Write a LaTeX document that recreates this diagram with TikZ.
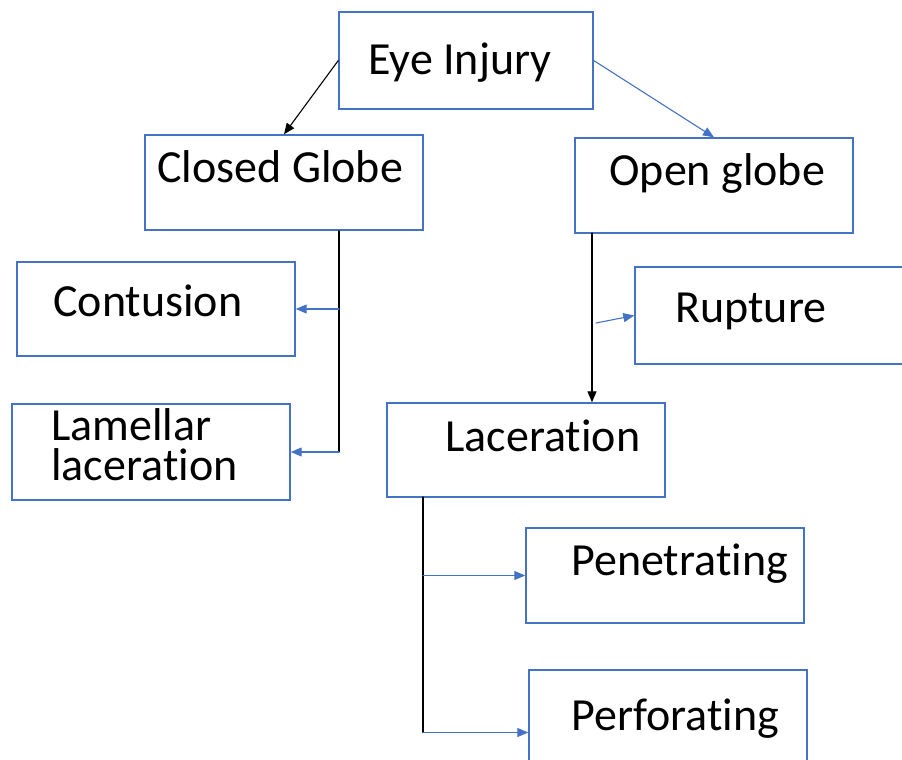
\documentclass[tikz,border=0pt]{standalone}
\usepackage{fontspec}
\setmainfont{Carlito}[Ligatures={NoCommon}]
\usetikzlibrary{arrows.meta,fit}
\definecolor{boxblue}{RGB}{68,114,196}
\tikzset{
  box/.style={draw=boxblue, line width=0.7pt, inner sep=0pt},
  txt/.style={anchor=base west, inner sep=0pt},
  link/.style={line width=0.55pt},
  bluelink/.style={draw=boxblue, line width=0.55pt}
}
\begin{document}
\begin{tikzpicture}[x=0.5pt, y=-0.5pt, font=\fontsize{23}{20}\selectfont, line cap=round, >={Triangle[length=5.5pt,width=4.5pt]}]
	\useasboundingbox (0,0) rectangle (902,760);
	\clip (0,0) rectangle (902,760);
	% boxes
	\foreach \n/\xa/\ya/\xb/\yb in {eye/339/12/593/109, closed/145/135/423/230, open/575/138/853/233,
		contusion/17/262/295/356, lamellar/12/404/290/500, rupture/635/267/930/364,
		laceration/387/403/665/497, penetrating/526/528/804/623, perforating/529/670/807/795}
	\node[box, fit={(\xa,\ya) (\xb,\yb)}] (\n) {};
	% labels
	\foreach \n/\x/\y/\t in {eyet/368/75/Eye Injury, closedt/157/183/Closed Globe, opent/609/185/Open globe,
		contusiont/53/316/Contusion, rupturet/675/322/Rupture, lacerationt/445/451/Laceration,
		penetratingt/571/575/Penetrating, perforatingt/571/730/Perforating}
	\node[txt] (\n) at (\x,\y) {\t};
	\node[txt, align=left] (lamellart) at (51,480) {Lamellar\\laceration};
	% trunks
	\coordinate (ctrunk) at (339,231);
	\coordinate (otrunk) at (592,233);
	\coordinate (rstart) at (596,323);
	\coordinate (ltrunk) at (423,497);
	\draw[link, ->] (eye.west) -- (closed.north);
	\draw[bluelink, ->, boxblue] (eye.east) -- (open.north);
	\draw[link] (ctrunk) -- (ctrunk |- lamellar.east);
	\draw[bluelink, ->, boxblue] (ctrunk |- contusion.east) -- (contusion.east);
	\draw[bluelink, ->, boxblue] (ctrunk |- lamellar.east) -- (lamellar.east);
	\draw[link, ->] (otrunk) -- (otrunk |- laceration.north);
	\draw[bluelink, ->, boxblue] (rstart) -- (rupture.west);
	\draw[link] (ltrunk) -- (ltrunk |- perforating.west);
	\draw[bluelink, ->, boxblue] (ltrunk |- penetrating.west) -- (penetrating.west);
	\draw[bluelink, ->, boxblue] (ltrunk |- perforating.west) -- (perforating.west);
\end{tikzpicture}
\end{document}
